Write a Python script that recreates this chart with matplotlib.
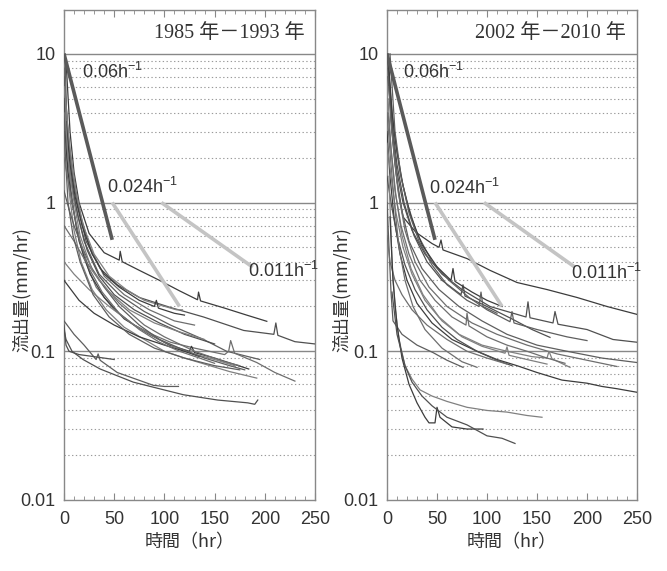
import matplotlib
matplotlib.use("Agg")
import matplotlib.pyplot as plt
from matplotlib.ticker import FixedLocator, MultipleLocator, NullLocator
import numpy as np

plt.rcParams['font.family'] = ['Liberation Sans', 'Noto Sans CJK JP', 'DejaVu Sans']
plt.rcParams['mathtext.fontset'] = 'custom'
plt.rcParams['mathtext.rm'] = 'Liberation Sans'
plt.rcParams['mathtext.it'] = 'Liberation Sans'
plt.rcParams['mathtext.sf'] = 'Liberation Sans'

# ---------------- data ----------------
titles = ["1985 年－1993 年", "2002 年－2010 年"]
x_label = "時間（hr）"
y_label = "流出量(mm/hr)"
x_ticks = [0, 50, 100, 150, 200, 250]
y_ticks = [0.01, 0.1, 1, 10]
y_ticklabels = ["0.01", "0.1", "1", "10"]

# reference recession lines
ref_rate_labels = ["0.06h$^{-1}$", "0.024h$^{-1}$", "0.011h$^{-1}$"]
ref_rates = [0.06, 0.024, 0.011]
ref_t_start = [0, 48, 97]
ref_q_start = [10, 1, 1]
ref_t_end = [48, 115, 188]

# ---- 1985-1993 recession curves (t [hr], Q [mm/hr]) ----
L_A = [(2, 9), (6, 3), (10, 1.6), (15, 1.0), (25, 0.62), (40, 0.46), (55, 0.41), (56, 0.47), (58, 0.4), (75, 0.35), (95, 0.3), (115, 0.255), (133, 0.222), (134, 0.25), (136, 0.218), (160, 0.195), (182, 0.175), (202, 0.159)]
L_B = [(0, 7), (4, 3), (8, 1.6), (13, 1.0), (22, 0.55), (36, 0.36), (53, 0.28), (75, 0.23), (106, 0.197), (139, 0.17), (179, 0.138), (209, 0.13), (211, 0.155), (213, 0.128), (230, 0.116), (250, 0.112)]
L_C = [(1, 10), (3, 3), (7, 1.5), (11, 1.0), (20, 0.55), (35, 0.33), (55, 0.24), (80, 0.185), (106, 0.15), (139, 0.12), (162, 0.1), (195, 0.088)]
L_D = [(0, 5), (3, 2.3), (7, 1.2), (12, 0.7), (20, 0.42), (32, 0.27), (50, 0.19), (70, 0.15), (90, 0.128), (106, 0.115), (130, 0.105), (160, 0.095), (164, 0.1), (166, 0.118), (170, 0.097), (192, 0.084), (210, 0.072), (230, 0.063)]
L_E = [(0, 4), (2, 2.3), (5, 1.2), (10, 0.65), (17, 0.4), (28, 0.26), (42, 0.19), (60, 0.145), (80, 0.12), (100, 0.1), (120, 0.09), (140, 0.082), (165, 0.073), (192, 0.066)]
L_F = [(1, 3), (4, 1.6), (8, 1.0), (15, 0.55), (26, 0.33), (40, 0.23), (60, 0.165), (85, 0.13), (105, 0.11), (125, 0.1), (127, 0.108), (130, 0.098), (150, 0.09), (184, 0.076)]
L_G = [(0, 0.14), (2, 0.12), (8, 0.1), (19, 0.088), (36, 0.076), (69, 0.062), (86, 0.058), (119, 0.051), (153, 0.047), (183, 0.045), (190, 0.044), (193, 0.047)]
L_H = [(0, 0.16), (10, 0.13), (20, 0.11), (32, 0.088), (34, 0.096), (36, 0.087), (53, 0.072), (89, 0.059), (100, 0.058), (114, 0.058)]
L_J = [(0, 0.7), (10, 0.55), (20, 0.42), (35, 0.3), (55, 0.21), (80, 0.15), (100, 0.125), (130, 0.1), (160, 0.085), (175, 0.08)]
L_K = [(0, 0.4), (10, 0.33), (25, 0.26), (45, 0.2), (70, 0.15), (95, 0.12), (120, 0.1), (150, 0.088), (170, 0.08)]
L_L = [(0, 0.3), (15, 0.22), (30, 0.18), (50, 0.15), (75, 0.125), (100, 0.11), (120, 0.1), (135, 0.092)]
L_M = [(0, 0.15), (2, 0.11), (5, 0.1), (15, 0.095), (30, 0.092), (50, 0.088)]
L_N = [(0, 8), (1, 2.3), (4, 1.0), (9, 0.6), (16, 0.4), (29, 0.24), (45, 0.17), (65, 0.13), (90, 0.105), (120, 0.09), (150, 0.08), (175, 0.075)]
L_O = [(1, 6), (5, 2.3), (10, 1.3), (17, 0.8), (26, 0.5), (40, 0.32), (60, 0.24), (85, 0.19), (110, 0.16), (130, 0.15)]
L_P = [(0, 6), (6, 2.3), (12, 1.2), (19, 0.7), (30, 0.45), (45, 0.32), (62, 0.26), (80, 0.22), (95, 0.205), (112, 0.19), (118, 0.19)]
L_Q = [(2, 3.5), (6, 1.8), (11, 1.1), (18, 0.7), (28, 0.45), (40, 0.33), (55, 0.27), (75, 0.22), (90, 0.2), (92, 0.22), (94, 0.195), (110, 0.18), (120, 0.175)]
L_R = [(0, 5), (3, 2.3), (8, 1.3), (14, 0.8), (23, 0.48), (35, 0.32), (50, 0.24), (70, 0.19), (95, 0.155), (120, 0.13), (150, 0.112)]
L_S = [(0, 1.2), (5, 0.9), (10, 0.7), (18, 0.5), (28, 0.36), (40, 0.27), (55, 0.2), (75, 0.15), (95, 0.12), (115, 0.105), (140, 0.09), (165, 0.08), (180, 0.075)]
L_T = [(0, 2), (5, 1.3), (10, 0.85), (16, 0.55), (25, 0.36), (38, 0.25), (55, 0.18), (75, 0.14), (95, 0.115), (115, 0.1), (135, 0.09), (150, 0.083)]
L_U = [(1, 4), (4, 2), (9, 1.1), (16, 0.6), (28, 0.35), (45, 0.25), (65, 0.19), (90, 0.155), (115, 0.135), (140, 0.12)]
left_curves = [L_A, L_B, L_C, L_D, L_E, L_F, L_G, L_H, L_J, L_K, L_L, L_M,
               L_N, L_O, L_P, L_Q, L_R, L_S, L_T, L_U]

# ---- 2002-2010 recession curves ----
R_01 = [(1, 9), (4, 4), (7, 2.2), (10, 1.4), (16, 0.8), (29, 0.63), (45, 0.53), (52, 0.5), (54, 0.56), (56, 0.48), (80, 0.42), (103, 0.35), (130, 0.29), (160, 0.26), (190, 0.23), (220, 0.2), (250, 0.177)]
R_02 = [(1, 7), (5, 3), (10, 1.6), (16, 1.0), (25, 0.65), (38, 0.45), (55, 0.33), (75, 0.26), (103, 0.2), (139, 0.17), (141, 0.215), (143, 0.168), (166, 0.155), (168, 0.185), (171, 0.152), (200, 0.14), (226, 0.12), (250, 0.115)]
R_03 = [(1, 8), (4, 3.5), (8, 1.8), (13, 1.0), (22, 0.55), (35, 0.36), (52, 0.26), (72, 0.2), (95, 0.16), (120, 0.13), (150, 0.11), (180, 0.1), (215, 0.09), (250, 0.084)]
R_04 = [(2, 6), (6, 2.5), (11, 1.2), (18, 0.65), (28, 0.4), (42, 0.27), (60, 0.2), (85, 0.155), (110, 0.13), (140, 0.11), (170, 0.096), (200, 0.087), (230, 0.079)]
R_05 = [(1, 5), (4, 2.3), (9, 1.1), (15, 0.6), (24, 0.36), (36, 0.24), (52, 0.17), (72, 0.13), (95, 0.11), (120, 0.1), (145, 0.092), (160, 0.09), (162, 0.1), (165, 0.089), (183, 0.078)]
R_06 = [(0, 3), (3, 1.5), (7, 0.8), (13, 0.45), (20, 0.3), (30, 0.21), (45, 0.155), (65, 0.12), (90, 0.1), (110, 0.088), (130, 0.08), (150, 0.072), (175, 0.064), (200, 0.061), (215, 0.058), (230, 0.056), (250, 0.053)]
R_07 = [(1, 9), (5, 3.5), (10, 1.8), (17, 1.0), (27, 0.6), (40, 0.4), (55, 0.3), (74, 0.24), (76, 0.28), (78, 0.235), (100, 0.2), (125, 0.165), (145, 0.14), (163, 0.124)]
R_08 = [(2, 7), (7, 3), (13, 1.6), (20, 1.0), (30, 0.62), (45, 0.4), (62, 0.3), (82, 0.23), (100, 0.19), (123, 0.158), (125, 0.185), (127, 0.155), (150, 0.14), (180, 0.125), (200, 0.118)]
R_09 = [(1, 4), (4, 2.3), (8, 1.2), (14, 0.7), (22, 0.45), (33, 0.3), (48, 0.22), (65, 0.17), (79, 0.15), (80, 0.18), (82, 0.148), (100, 0.125), (120, 0.11), (140, 0.1), (160, 0.09), (178, 0.083)]
R_10 = [(0, 2.5), (4, 1.5), (9, 0.85), (16, 0.5), (25, 0.33), (38, 0.22), (55, 0.16), (75, 0.125), (95, 0.108), (118, 0.097), (120, 0.107), (122, 0.094), (140, 0.088), (160, 0.082)]
R_11 = [(1, 10), (5, 4), (10, 2.2), (16, 1.3), (24, 0.8), (35, 0.52), (50, 0.37), (64, 0.3), (66, 0.36), (68, 0.295), (85, 0.25), (100, 0.22), (115, 0.2)]
R_12 = [(0, 1.5), (4, 1.0), (10, 0.6), (18, 0.38), (28, 0.26), (40, 0.19), (55, 0.145), (70, 0.12), (90, 0.1), (110, 0.087), (125, 0.08)]
R_13 = [(0, 1.0), (2, 0.5), (4, 0.25), (6, 0.16), (15, 0.13), (30, 0.11), (46, 0.098), (60, 0.087), (76, 0.078)]
R_14 = [(0, 0.6), (3, 0.4), (8, 0.3), (15, 0.24), (25, 0.19), (40, 0.15), (60, 0.12), (80, 0.1), (100, 0.09), (120, 0.082)]
R_15 = [(2, 1.5), (5, 0.4), (8, 0.2), (12, 0.12), (18, 0.08), (25, 0.065), (33, 0.055), (45, 0.05), (60, 0.046), (80, 0.042), (100, 0.04), (120, 0.039), (140, 0.037), (155, 0.036)]
R_16 = [(3, 0.8), (6, 0.3), (10, 0.15), (15, 0.09), (22, 0.06), (30, 0.045), (38, 0.036), (42, 0.033), (48, 0.033), (50, 0.042), (53, 0.036), (65, 0.031), (80, 0.03), (96, 0.03)]
R_17 = [(5, 0.25), (10, 0.13), (18, 0.08), (25, 0.062), (35, 0.05), (45, 0.043), (60, 0.036), (80, 0.032), (100, 0.027), (115, 0.026), (128, 0.024)]
R_18 = [(3, 10), (8, 3), (14, 1.5), (22, 0.85), (32, 0.55), (45, 0.38), (60, 0.28), (80, 0.22), (92, 0.2), (94, 0.25), (96, 0.2), (110, 0.18)]
R_19 = [(0, 4), (4, 1.8), (8, 0.9), (12, 0.5), (18, 0.3), (26, 0.2), (38, 0.14), (55, 0.105), (75, 0.085), (90, 0.078)]
right_curves = [R_01, R_02, R_03, R_04, R_05, R_06, R_07, R_08, R_09, R_10, R_11,
                R_12, R_13, R_14, R_15, R_16, R_17, R_18, R_19]

# ---------------- figure ----------------
W, H = 667, 571
fig = plt.figure(figsize=(W / 100, H / 100), dpi=100)
fig.patch.set_facecolor("white")

ax_pos = [[64 / W, 1 - 500 / H, 251 / W, 490 / H],
          [387 / W, 1 - 500 / H, 250 / W, 490 / H]]
ylab_x = [22 / W, 342 / W]
curve_sets = [left_curves, right_curves]
line_greys = ["#3c3c3c", "#505050", "#5e5e5e", "#6e6e6e", "#808080"]
label_pos = [[(18, 7.6), (43, 1.28), (183, 0.345)],
             [(16, 7.6), (42, 1.25), (184, 0.335)]]
title_x = [0.96, 0.955]

for k in range(2):
    ax = fig.add_axes(ax_pos[k])
    ax.set_yscale("log")
    ax.set_xlim(0, 250)
    ax.set_ylim(0.01, 19.7)

    # grid: solid decades, dotted minor
    for dec in [0.1, 1, 10]:
        ax.axhline(dec, color="#888888", lw=1.0, zorder=1)
    for dec in [0.01, 0.1, 1]:
        for m in range(2, 10):
            ax.axhline(dec * m, color="#9a9a9a", lw=0.8, ls=(0, (1.2, 2.2)), zorder=1)

    # recession curves
    for i, c in enumerate(curve_sets[k]):
        t = [p[0] for p in c]
        q = [p[1] for p in c]
        ax.plot(t, q, color=line_greys[i % len(line_greys)], lw=0.9, zorder=3)

    # reference recession slopes
    for j in range(3):
        tt = np.array([ref_t_start[j], ref_t_end[j]], dtype=float)
        qq = ref_q_start[j] * np.exp(-ref_rates[j] * (tt - ref_t_start[j]))
        col = "#5a5a5a" if j == 0 else "#c4c4c4"
        ax.plot(tt, qq, color=col, lw=2.6, solid_capstyle="butt", zorder=4)
        lx, ly = label_pos[k][j]
        ax.text(lx, ly, ref_rate_labels[j], fontsize=13, color="#333333",
                ha="left", va="center", zorder=5)

    ax.text(title_x[k], 0.953, titles[k], transform=ax.transAxes, fontsize=14.5,
            ha="right", va="center", color="#333333",
            family=["Liberation Serif", "Noto Sans CJK JP"])

    # ticks
    ax.xaxis.set_major_locator(FixedLocator(x_ticks))
    ax.xaxis.set_minor_locator(MultipleLocator(10))
    ax.set_xticklabels([str(v) for v in x_ticks])
    ax.tick_params(axis="x", which="both", direction="in", top=True, bottom=True,
                   color="#888888", labelsize=13, labelcolor="#333333", pad=8)
    ax.tick_params(axis="x", which="major", length=5)
    ax.tick_params(axis="x", which="minor", length=3)
    ax.yaxis.set_major_locator(FixedLocator(y_ticks))
    ax.set_yticklabels(y_ticklabels)
    ax.yaxis.set_minor_locator(NullLocator())
    ax.tick_params(axis="y", which="both", length=0, labelsize=13,
                   labelcolor="#333333", pad=6)
    for s in ax.spines.values():
        s.set_color("#888888")
        s.set_linewidth(1.0)

    ax.set_xlabel(x_label, fontsize=13, color="#333333", labelpad=4,
                  family=["Noto Sans CJK JP", "Liberation Sans"])
    fig.text(ylab_x[k], 1 - 290 / H, y_label, rotation=90, fontsize=13,
             color="#333333", ha="center", va="center",
             family=["Noto Sans CJK JP", "Liberation Sans"])

fig.savefig("out.png", dpi=100)
